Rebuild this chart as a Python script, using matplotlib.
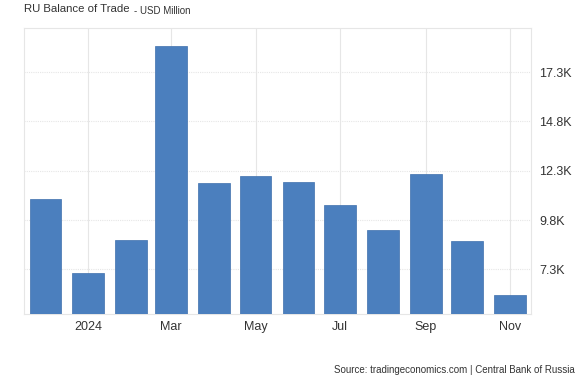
import pandas as pd
import matplotlib.pyplot as plt

plt.rcParams['font.family'] = ['Liberation Sans', 'DejaVu Sans']

# Data (USD million)
months = ['2023-12-01', '2024-01-01', '2024-02-01', '2024-03-01', '2024-04-01', '2024-05-01',
          '2024-06-01', '2024-07-01', '2024-08-01', '2024-09-01', '2024-10-01', '2024-11-01']
values = [10870, 7110, 8800, 18640, 11660, 12020, 11710, 10550, 9290, 12150, 8750, 5980]
tick_months = ['2024-01-01', '2024-03-01', '2024-05-01', '2024-07-01', '2024-09-01', '2024-11-01']
tick_labels = ['2024', 'Mar', 'May', 'Jul', 'Sep', 'Nov']
y_ticks = [7300, 9800, 12300, 14800, 17300]
y_labels = ['7.3K', '9.8K', '12.3K', '14.8K', '17.3K']

bar_color = '#4b7fbe'
text_color = '#333333'
grid_color = '#e6e6e6'

dates = pd.to_datetime(months)
tick_dates = pd.to_datetime(tick_months)

W, H = 585, 375
fig = plt.figure(figsize=(W / 100, H / 100), dpi=100)
ax = fig.add_axes([24 / W, (H - 314.3) / H, (531 - 24) / W, (314.3 - 28) / H])

ax.bar(dates, values, width=23, color=bar_color, edgecolor='#3f70ad',
       linewidth=0.5, zorder=3)

# Axis limits
ax.set_xlim(dates[0] - pd.Timedelta(days=15.5), dates[-1] + pd.Timedelta(days=15.2))
ax.set_ylim(5020, 19540)

# Ticks
ax.set_xticks(tick_dates)
ax.set_xticklabels(tick_labels)
ax.set_yticks(y_ticks)
ax.set_yticklabels(y_labels)
ax.yaxis.tick_right()
ax.tick_params(axis='both', length=0, labelsize=9, colors=text_color)
ax.tick_params(axis='x', pad=5)
ax.tick_params(axis='y', pad=6)

# Grid
ax.grid(axis='y', color=grid_color, linewidth=0.8, linestyle=(0, (1, 1)), zorder=0)
ax.grid(axis='x', color=grid_color, linewidth=0.8, zorder=0)

for side in ['left', 'right', 'top', 'bottom']:
    ax.spines[side].set_color(grid_color)
    ax.spines[side].set_linewidth(0.8)

# Title
fig.text(24 / W, 1 - 4 / H, 'RU Balance of Trade', fontsize=8.2, color=text_color,
         ha='left', va='top')
fig.text(134 / W, 1 - 5.5 / H, '- USD Million', fontsize=7, color=text_color,
         ha='left', va='top')

# Source
fig.text(575 / W, 1 - 365 / H, 'Source: tradingeconomics.com | Central Bank of Russia',
         fontsize=7, color=text_color, ha='right', va='top')

fig.savefig('out.png', dpi=100)
